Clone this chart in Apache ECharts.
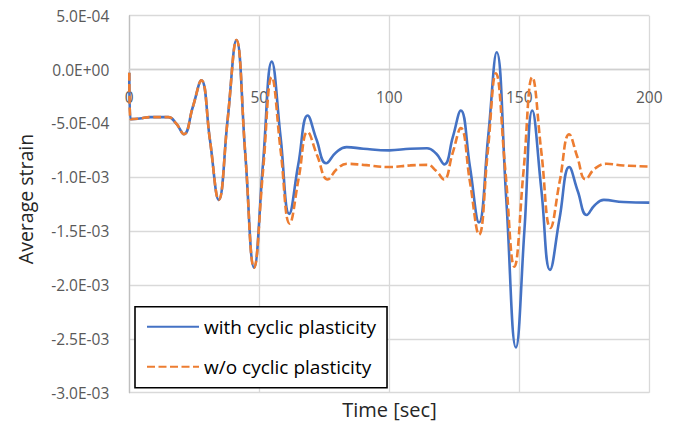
<!DOCTYPE html>
<html>
<head>
<meta charset="utf-8">
<script src="https://cdn.jsdelivr.net/npm/echarts@6/dist/echarts.min.js"></script>
<style>
html,body{margin:0;padding:0;background:#fff;}
#c{width:684px;height:423px;}
</style>
</head>
<body>
<div id="c"></div>
<script>
// ---- data ----
const xTicks = [0, 50, 100, 150, 200];
const seriesNames = ['with cyclic plasticity', 'w/o cyclic plasticity'];

const tWith = [0, 0.5, 4, 8, 15, 18, 21, 24.4, 27.7, 31, 34.4, 37.8, 41.2, 44.6, 48, 51.4, 54.8,
  58.2, 61.5, 65, 68.6, 72, 75.7, 79.5, 83.6, 90, 100, 108, 114.5, 118, 121.2, 124.4, 127.5,
  131, 134.5, 138, 141.3, 145, 148.7, 152, 155, 158.5, 161.8, 165.5, 169.2, 172.5, 175.9,
  179, 182.5, 190, 200];
const vWith = [-0.3e-4, -4.6e-4, -4.55e-4, -4.42e-4, -4.42e-4, -5.0e-4, -6.0e-4, -3.5e-4, -1.0e-4,
  -6.5e-4, -12.1e-4, -4.7e-4, 2.75e-4, -7.8e-4, -18.4e-4, -8.8e-4, 0.74e-4,
  -6.3e-4, -13.4e-4, -8.8e-4, -4.27e-4, -6.5e-4, -8.7e-4, -7.7e-4, -7.2e-4, -7.35e-4, -7.5e-4,
  -7.35e-4, -7.3e-4, -7.8e-4, -8.8e-4, -6.3e-4, -3.8e-4,
  -9.0e-4, -14.2e-4, -6.3e-4, 1.6e-4, -12.1e-4, -25.8e-4, -14.8e-4, -3.8e-4, -11.2e-4, -18.6e-4,
  -13.8e-4, -9.05e-4, -11.3e-4, -13.5e-4, -12.6e-4, -12.1e-4, -12.3e-4, -12.35e-4];

const tWithout = [0, 0.5, 4, 8, 15, 18, 21, 24.4, 27.7, 31, 34.4, 37.8, 41.2, 44.6, 48, 51.4, 54.8,
  58.2, 61.7, 65.2, 68.6, 72.3, 76.3, 80, 84, 90, 100, 108, 114.5, 118, 121, 124.3, 127.5,
  131, 134.5, 137.8, 141, 144.6, 148.1, 151.6, 155, 158.5, 162, 165.6, 169.2, 172.3, 175.5,
  179, 183.6, 190, 200];
const vWithout = [-0.3e-4, -4.6e-4, -4.55e-4, -4.42e-4, -4.42e-4, -5.0e-4, -6.0e-4, -3.5e-4, -1.0e-4,
  -6.5e-4, -12.1e-4, -4.7e-4, 2.75e-4, -7.8e-4, -18.4e-4, -9.5e-4, -0.7e-4,
  -7.5e-4, -14.3e-4, -10.0e-4, -5.8e-4, -8.0e-4, -10.2e-4, -9.2e-4, -8.75e-4, -8.85e-4, -9.05e-4,
  -8.9e-4, -8.85e-4, -9.4e-4, -10.2e-4, -7.8e-4, -5.44e-4,
  -10.4e-4, -15.33e-4, -7.8e-4, -0.34e-4, -9.3e-4, -18.3e-4, -9.5e-4, -0.7e-4, -7.7e-4, -14.7e-4,
  -10.3e-4, -6.0e-4, -8.1e-4, -10.2e-4, -9.2e-4, -8.75e-4, -8.9e-4, -9.0e-4];

const yMin = -3.0e-3, yMax = 5.0e-4, yStep = 5.0e-4;
const xTitle = 'Time [sec]';
const yTitle = 'Average strain';

// ---- chart ----
const FONT = '"Open Sans", "Noto Sans", sans-serif';
function fmtY(v) {
  if (Math.abs(v) < 1e-12) return '0.0E+00';
  let s = v.toExponential(1).toUpperCase();
  return s.replace(/E([+-])(\d)$/, 'E$10$2');
}
const pair = (ts, vs) => ts.map((t, i) => [t, vs[i]]);

const GRID = {left: 129.3, right: 34.7, top: 15.7, bottom: 30.3};
const plotH = 423 - GRID.top - GRID.bottom;
// the horizontal axis crosses the vertical one at value 0
const xAxisOffset = -plotH * (0 - yMin) / (yMax - yMin);

const chart = echarts.init(document.getElementById('c'), null, {renderer: 'svg'});
chart.setOption({
  animation: false,
  backgroundColor: '#ffffff',
  grid: Object.assign({containLabel: false, outerBoundsMode: 'none'}, GRID),
  xAxis: {
    type: 'value', min: xTicks[0], max: xTicks[xTicks.length - 1], interval: xTicks[1] - xTicks[0],
    position: 'bottom', offset: xAxisOffset,
    axisLine: {show: true, onZero: false, lineStyle: {color: '#D0D0D0', width: 1.3}},
    axisTick: {show: false},
    axisLabel: {color: '#595959', fontFamily: FONT, fontSize: 15.5, margin: 19,
      formatter: v => String(v)},
    splitLine: {show: true, lineStyle: {color: '#D9D9D9', width: 1.3}}
  },
  yAxis: {
    type: 'value', min: yMin, max: yMax, interval: yStep,
    axisLine: {show: true, onZero: false, lineStyle: {color: '#BFBFBF', width: 1.3}},
    axisTick: {show: false},
    axisLabel: {color: '#595959', fontFamily: FONT, fontSize: 15.5, margin: 20, formatter: fmtY},
    splitLine: {show: true, lineStyle: {color: '#D9D9D9', width: 1.3}}
  },
  legend: {
    orient: 'vertical', left: 135, top: 306.7,
    backgroundColor: '#fff', borderColor: '#000', borderWidth: 1.6,
    padding: [9, 11, 10, 11],
    itemWidth: 52, itemHeight: 14, itemGap: 18,
    itemStyle: {opacity: 0},
    textStyle: {color: '#000', fontFamily: FONT, fontSize: 19, lineHeight: 22},
    data: seriesNames
  },
  graphic: [
    {type: 'text', x: 389.5, y: 409, style: {text: xTitle, fill: '#262626', font: '20px ' + FONT, textAlign: 'center', textVerticalAlign: 'middle'}},
    {type: 'text', x: 25.5, y: 199, rotation: Math.PI / 2, style: {text: yTitle, fill: '#262626', font: '19.5px ' + FONT, textAlign: 'center', textVerticalAlign: 'middle'}}
  ],
  series: [
    {name: seriesNames[0], type: 'line', data: pair(tWith, vWith), smooth: 0.45,
      symbol: 'none', lineStyle: {color: '#4472C4', width: 2.6}, itemStyle: {color: '#4472C4'}, z: 2},
    {name: seriesNames[1], type: 'line', data: pair(tWithout, vWithout), smooth: 0.45,
      symbol: 'none', lineStyle: {color: '#ED7D31', width: 2.6, type: [8, 3.5]}, itemStyle: {color: '#ED7D31'}, z: 3}
  ]
});
</script>
</body>
</html>
